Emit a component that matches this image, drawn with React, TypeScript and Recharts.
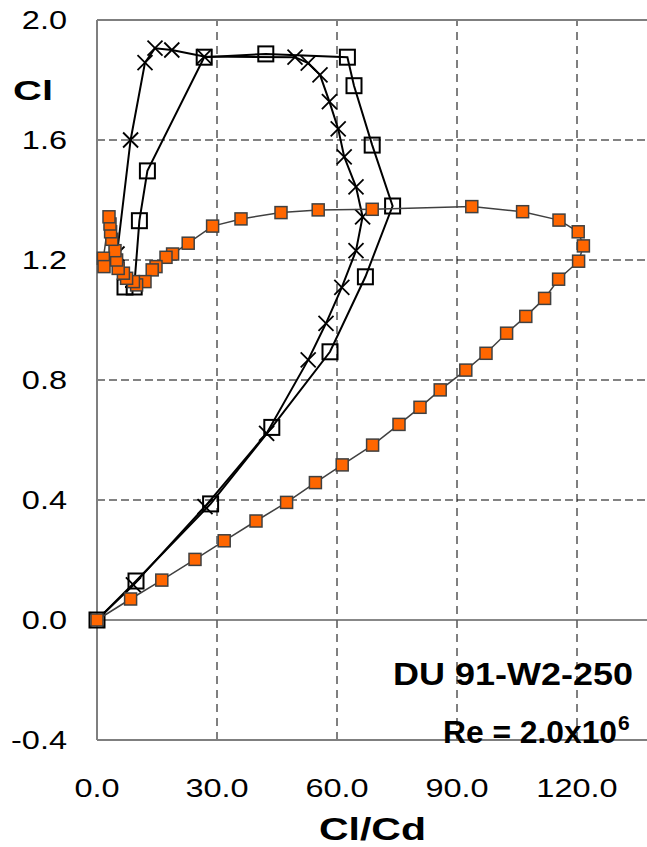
import { ScatterChart, Scatter, XAxis, YAxis, ReferenceLine } from "recharts";

// Cl/Cd and Cl pairs for the three polars
const crossLD = [0, 9.1, 27, 42.4, 52.8, 57.25, 61.2, 64.75, 66.4, 64.75, 61.8, 60.3, 58.1, 55.75, 52.8, 49.5, 26.8, 18.7, 14.5, 12, 8.4, 5.0];
const crossCl = [0, 0.117, 0.378, 0.622, 0.867, 0.989, 1.109, 1.231, 1.344, 1.444, 1.544, 1.637, 1.728, 1.817, 1.856, 1.876, 1.878, 1.9, 1.906, 1.858, 1.6, 1.22];

const openLD = [0, 9.75, 28.4, 43.7, 58.25, 67.1, 73.9, 68.8, 64.25, 62.6, 42.2, 26.8, 12.6, 10.6, 9.3, 7.0];
const openCl = [0, 0.13, 0.387, 0.642, 0.894, 1.144, 1.38, 1.583, 1.781, 1.876, 1.887, 1.876, 1.497, 1.331, 1.11, 1.11];

const filledLD = [
  0, 8.4, 16.2, 24.5, 31.8, 39.75, 47.4, 54.6, 61.3, 68.9,
  75.5, 80.75, 85.8, 92.2, 97.25, 102.4, 107.2, 111.9, 115.4, 120.4,
  121.6, 120.3, 115.5, 106.4, 93.7, 68.8, 55.3, 46, 36, 28.9,
  22.8, 18.9, 17.25, 14.75, 13.8, 12, 9.9, 9.1, 7.4, 6.6,
  5.3, 4.9, 4.5, 3.7, 3.4, 3.25, 3.0, 1.6, 1.75,
];
const filledCl = [
  0, 0.07, 0.133, 0.202, 0.264, 0.33, 0.392, 0.458, 0.517, 0.583,
  0.652, 0.709, 0.767, 0.833, 0.889, 0.956, 1.012, 1.072, 1.136, 1.196,
  1.247, 1.294, 1.333, 1.361, 1.378, 1.369, 1.367, 1.358, 1.337, 1.313,
  1.256, 1.22, 1.209, 1.178, 1.167, 1.128, 1.117, 1.128, 1.139, 1.156,
  1.172, 1.2, 1.231, 1.269, 1.294, 1.32, 1.344, 1.206, 1.178,
];

const xTicks = [0, 30, 60, 90, 120];
const yTicks = [-0.4, 0, 0.4, 0.8, 1.2, 1.6, 2.0];
const hGrid = [0.4, 0.8, 1.2, 1.6];
const vGrid = [30, 60, 90, 120];

const zip = (xs: number[], ys: number[]) => xs.map((x, i) => ({ x, y: ys[i] }));

const FONT = '"Liberation Sans", Arial, sans-serif';

function Cross({ cx, cy }: any) {
  const r = 7.5;
  return (
    <g stroke="#000" strokeWidth={1.8}>
      <line x1={cx - r} y1={cy - r} x2={cx + r} y2={cy + r} />
      <line x1={cx - r} y1={cy + r} x2={cx + r} y2={cy - r} />
    </g>
  );
}

function OpenSquare({ cx, cy }: any) {
  const h = 7.5;
  return <rect x={cx - h} y={cy - h} width={h * 2} height={h * 2} fill="none" stroke="#000" strokeWidth={2} />;
}

function FilledSquare({ cx, cy }: any) {
  const h = 6;
  return <rect x={cx - h} y={cy - h} width={h * 2} height={h * 2} fill="#ff6600" stroke="#404040" strokeWidth={1.5} />;
}

const YTick = ({ x, y, payload }: any) => (
  <text
    transform={`translate(${x},${y + 9}) scale(1.25,1)`}
    textAnchor="end"
    fontFamily={FONT}
    fontSize={26}
    fill="#000"
  >
    {Number(payload.value).toFixed(1)}
  </text>
);

const XTick = ({ x, y, payload }: any) => (
  <text
    transform={`translate(${x},${y + 57}) scale(1.25,1)`}
    textAnchor="middle"
    fontFamily={FONT}
    fontSize={26}
    fill="#000"
  >
    {Number(payload.value).toFixed(1)}
  </text>
);

export default function App() {
  return (
    <div style={{ position: "absolute", left: 0, top: 0, width: 647, height: 847, overflow: "hidden", background: "#fff" }}>
      <ScatterChart width={660} height={847} margin={{ top: 20, right: 3, bottom: 0, left: 0 }}>
        <XAxis
          type="number"
          dataKey="x"
          domain={[0, 140]}
          ticks={xTicks}
          interval={0}
          height={107}
          tickLine={false}
          tickSize={0}
          tickMargin={0}
          axisLine={{ stroke: "#7f7f7f", strokeWidth: 2 }}
          tick={XTick}
        />
        <YAxis
          type="number"
          dataKey="y"
          domain={[-0.4, 2.0]}
          ticks={yTicks}
          interval={0}
          width={97}
          tickLine={false}
          tickSize={0}
          tickMargin={30}
          axisLine={{ stroke: "#7f7f7f", strokeWidth: 2 }}
          tick={YTick}
        />
        {hGrid.map((v) => (
          <ReferenceLine key={`h${v}`} y={v} stroke="#595959" strokeWidth={1.3} strokeDasharray="8 4" />
        ))}
        {vGrid.map((v) => (
          <ReferenceLine key={`v${v}`} x={v} stroke="#000" strokeWidth={1} strokeDasharray="8 6" />
        ))}
        <ReferenceLine y={0} stroke="#606060" strokeWidth={1.5} />
        <ReferenceLine y={2.0} stroke="#7f7f7f" strokeWidth={2} />
        <Scatter
          data={zip(crossLD, crossCl)}
          line={{ stroke: "#000", strokeWidth: 2 }}
          shape={(p: any) => <Cross {...p} />}
          isAnimationActive={false}
        />
        <Scatter
          data={zip(openLD, openCl)}
          line={{ stroke: "#000", strokeWidth: 2 }}
          shape={(p: any) => <OpenSquare {...p} />}
          isAnimationActive={false}
        />
        <Scatter
          data={zip(filledLD, filledCl)}
          line={{ stroke: "#404040", strokeWidth: 1.5 }}
          shape={(p: any) => <FilledSquare {...p} />}
          isAnimationActive={false}
        />
      </ScatterChart>
      <svg width={647} height={847} style={{ position: "absolute", left: 0, top: 0, pointerEvents: "none" }}>
        <g fontFamily={FONT} fontWeight="bold" fill="#000">
          <text x={13} y={100} fontSize={28} textLength={40} lengthAdjust="spacingAndGlyphs">Cl</text>
          <text x={319} y={840} fontSize={32} textLength={107} lengthAdjust="spacingAndGlyphs">Cl/Cd</text>
          <text x={393} y={685} fontSize={32} textLength={240} lengthAdjust="spacingAndGlyphs">DU 91-W2-250</text>
          <text x={443} y={743} fontSize={32} textLength={174} lengthAdjust="spacingAndGlyphs">Re = 2.0x10</text>
          <text x={618} y={730} fontSize={21}>6</text>
        </g>
      </svg>
    </div>
  );
}
